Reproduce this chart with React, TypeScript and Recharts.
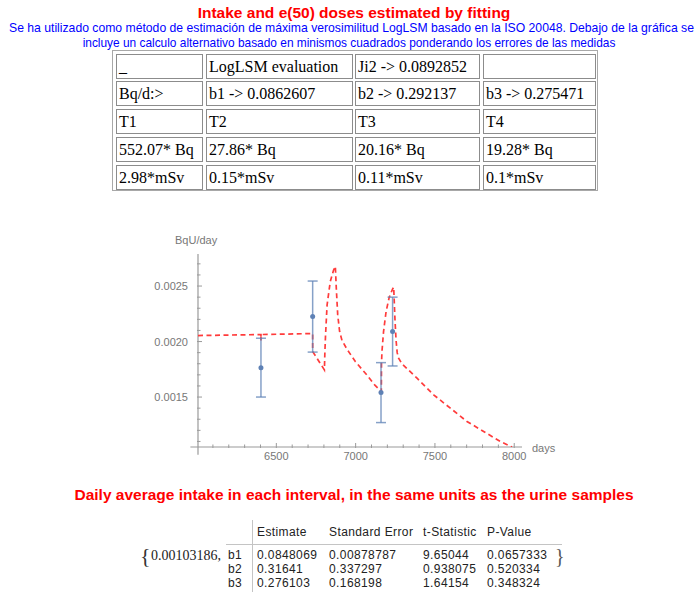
import React from 'react';
import { ComposedChart, Line, Scatter, ErrorBar, XAxis, YAxis, ReferenceLine } from 'recharts';

// Fitted urinary excretion curve (day, BqU/day)
const fitDays = [
  6006, 6403, 6403, 6403, 6729, 6729, 6765, 6803, 6806, 6810, 6820, 6840, 6860, 6872,
  6875, 6878, 6887, 6899, 6914, 6946, 6998, 7070, 7120, 7162, 7163, 7166, 7176, 7192,
  7212, 7232, 7240, 7243, 7248, 7255, 7262, 7271, 7292, 7387, 7492, 7597, 7702, 7807,
  7912, 7986,
];
const fitRates = [
  0.002054, 0.002063, 0.00201, 0.002063, 0.002072, 0.00191, 0.00183, 0.001745, 0.0019,
  0.00205, 0.00233, 0.00254, 0.00264, 0.002676, 0.00258, 0.00248, 0.00224, 0.00209,
  0.00201, 0.00193, 0.00182, 0.0017, 0.00161, 0.00155, 0.0018, 0.00191, 0.00209, 0.00227,
  0.0024, 0.00247, 0.00249, 0.00238, 0.0022, 0.00201, 0.0019, 0.00185, 0.0018, 0.00167,
  0.00152, 0.0014, 0.00128, 0.00119, 0.0011, 0.00105,
];

// Urine samples and their uncertainties
const sampleDays = [6403, 6729, 7160, 7233];
const sampleRates = [0.001765, 0.002225, 0.00154, 0.00209];
const sampleErrors = [0.000265, 0.00032, 0.00027, 0.00031];

const xTicks = [
  6100, 6200, 6300, 6400, 6500, 6600, 6700, 6800, 6900, 7000, 7100, 7200, 7300, 7400,
  7500, 7600, 7700, 7800, 7900, 8000,
];
const xLabels = [6500, 7000, 7500, 8000];
const yTicks = [
  0.0011, 0.0012, 0.0013, 0.0014, 0.0015, 0.0016, 0.0017, 0.0018, 0.0019, 0.002, 0.0021,
  0.0022, 0.0023, 0.0024, 0.0025, 0.0026, 0.0027,
];
const yLabels = [0.0015, 0.002, 0.0025];

// LogLSM summary table
const summaryRows = [
  ['_', 'LogLSM evaluation', 'Ji2 -> 0.0892852', ''],
  ['Bq/d:>', 'b1 -> 0.0862607', 'b2 -> 0.292137', 'b3 -> 0.275471'],
  ['T1', 'T2', 'T3', 'T4'],
  ['552.07* Bq', '27.86* Bq', '20.16* Bq', '19.28* Bq'],
  ['2.98*mSv', '0.15*mSv', '0.11*mSv', '0.1*mSv'],
];

// Weighted least squares parameter table
const lsqOffset = '0.00103186,';
const lsqHeaders = ['Estimate', 'Standard Error', 't-Statistic', 'P-Value'];
const lsqParams = ['b1', 'b2', 'b3'];
const lsqEstimate = ['0.0848069', '0.31641', '0.276103'];
const lsqStdError = ['0.00878787', '0.337297', '0.168198'];
const lsqTStat = ['9.65044', '0.938075', '1.64154'];
const lsqPValue = ['0.0657333', '0.520334', '0.348324'];

const fitData = fitDays.map((day, i) => ({ day, rate: fitRates[i] }));
const sampleData = sampleDays.map((day, i) => ({ day, rate: sampleRates[i], err: sampleErrors[i] }));

const SANS = '"Liberation Sans", Arial, sans-serif';
const SERIF = '"Liberation Serif", "Times New Roman", serif';
const AXIS = '#9a9a9a';
const LABEL = '#777';
const RED = '#ff0000';
const BLUE = '#0000ff';
const FIT = '#ff3b3b';
const POINT = '#5e81b5';

const near = (list: number[], v: number) => list.some((t) => Math.abs(t - v) < 1e-9);

const renderXTick = (props: any) => {
  const { x, y, payload } = props;
  const major = near(xLabels, payload.value);
  return (
    <g>
      <line x1={x} x2={x} y1={y - (major ? 4 : 2.5)} y2={y + 1} stroke={AXIS} />
      {major && (
        <text x={x} y={y + 13} textAnchor="middle" fontSize={11} fontFamily={SANS} fill={LABEL}>
          {payload.value}
        </text>
      )}
    </g>
  );
};

const renderYTick = (props: any) => {
  const { x, y, payload } = props;
  const major = near(yLabels, payload.value);
  return (
    <g>
      <line x1={x - 1} x2={x + (major ? 4 : 2.5)} y1={y} y2={y} stroke={AXIS} />
      {major && (
        <text x={x - 10} y={y + 4} textAnchor="end" fontSize={11} fontFamily={SANS} fill={LABEL}>
          {payload.value.toFixed(4)}
        </text>
      )}
    </g>
  );
};

// single line of text placed by its left edge and vertical centre
const Text = ({
  left,
  cy,
  size,
  lineScale = 1.15,
  center = false,
  children,
  style = {},
}: {
  left: number;
  cy: number;
  size: number;
  lineScale?: number;
  center?: boolean;
  children: React.ReactNode;
  style?: React.CSSProperties;
}) => {
  const lh = Math.round(size * lineScale);
  return (
    <div
      style={{
        position: 'absolute',
        left,
        top: cy - lh / 2,
        height: lh,
        lineHeight: `${lh}px`,
        fontSize: size,
        whiteSpace: 'nowrap',
        transform: center ? 'translateX(-50%)' : undefined,
        ...style,
      }}
    >
      {children}
    </div>
  );
};

// cell geometry of the summary table
const colLeft = [115, 205, 354, 482];
const colWidth = [87, 147, 125, 113];
const rowTop = [53, 80, 108, 136, 164];
const rowHeight = 25;

const SummaryTable = () => (
  <div
    style={{
      position: 'absolute',
      left: 112,
      top: 50,
      width: 486,
      height: 141,
      border: '1px solid #a8a8a8',
      boxSizing: 'border-box',
    }}
  >
    {summaryRows.map((row, r) =>
      row.map((cell, c) => (
        <div
          key={`${r}-${c}`}
          style={{
            position: 'absolute',
            left: colLeft[c] - 112,
            top: rowTop[r] - 50,
            width: colWidth[c],
            height: rowHeight,
            border: '1px solid #8c8c8c',
            boxSizing: 'border-box',
            fontFamily: SERIF,
            fontSize: 16,
            lineHeight: '23px',
            paddingLeft: 2,
            whiteSpace: 'nowrap',
            color: '#000',
          }}
        >
          {cell}
        </div>
      ))
    )}
  </div>
);

const lsqColumns = [lsqEstimate, lsqStdError, lsqTStat, lsqPValue];
const lsqColLeft = [257, 329, 423, 487];
const lsqRowY = [555, 569, 583];
const gridText: React.CSSProperties = { fontFamily: SANS, color: '#222', letterSpacing: 0.4 };

const LeastSquaresTable = () => (
  <>
    <Text left={140} cy={556} size={22} lineScale={1} style={{ fontFamily: SERIF, color: '#333' }}>
      {'{'}
    </Text>
    <Text left={151} cy={556} size={14} lineScale={1} style={{ fontFamily: SERIF, color: '#222' }}>
      {lsqOffset}
    </Text>
    <div style={{ position: 'absolute', left: 252, top: 520, width: 1, height: 72, background: '#c4c4c4' }} />
    <div style={{ position: 'absolute', left: 226, top: 544, width: 336, height: 1, background: '#c4c4c4' }} />
    {lsqHeaders.map((h, i) => (
      <Text key={h} left={lsqColLeft[i]} cy={532} size={12} lineScale={1} style={gridText}>
        {h}
      </Text>
    ))}
    {lsqParams.map((p, r) => (
      <React.Fragment key={p}>
        <Text left={228} cy={lsqRowY[r]} size={12} lineScale={1} style={gridText}>
          {p}
        </Text>
        {lsqColumns.map((col, c) => (
          <Text key={c} left={lsqColLeft[c]} cy={lsqRowY[r]} size={12} lineScale={1} style={gridText}>
            {col[r]}
          </Text>
        ))}
      </React.Fragment>
    ))}
    <Text left={555} cy={556} size={20} lineScale={1} style={{ fontFamily: SERIF, color: '#555' }}>
      {'}'}
    </Text>
  </>
);

const FitChart = () => (
  <div style={{ position: 'absolute', left: 150, top: 225 }}>
    <ComposedChart width={420} height={240} margin={{ top: 29, right: 48, bottom: 2, left: 8 }}>
      <XAxis
        type="number"
        dataKey="day"
        domain={[6006, 8049]}
        allowDataOverflow
        ticks={xTicks}
        interval={0}
        tickSize={0}
        tickMargin={0}
        axisLine={false}
        tickLine={false}
        tick={renderXTick}
        height={16}
      />
      <YAxis
        type="number"
        dataKey="rate"
        domain={[0.00105, 0.0027887]}
        allowDataOverflow
        ticks={yTicks}
        interval={0}
        tickSize={0}
        tickMargin={0}
        axisLine={false}
        tickLine={false}
        tick={renderYTick}
        width={40}
      />
      <ReferenceLine
        segment={[{ x: 5958, y: 0.00105 }, { x: 8049, y: 0.00105 }]}
        stroke={AXIS}
        strokeWidth={1.2}
        ifOverflow="visible"
      />
      <ReferenceLine
        segment={[{ x: 6006, y: 0.00098 }, { x: 6006, y: 0.0027887 }]}
        stroke={AXIS}
        strokeWidth={1.2}
        ifOverflow="visible"
      />
      <Line
        data={fitData}
        dataKey="rate"
        type="linear"
        stroke={FIT}
        strokeWidth={1.7}
        strokeDasharray="5 3.5"
        dot={false}
        activeDot={false}
        isAnimationActive={false}
      />
      <Scatter
        data={sampleData}
        dataKey="rate"
        fill={POINT}
        isAnimationActive={false}
        shape={(p: any) => <circle cx={p.cx} cy={p.cy} r={2.5} fill={POINT} />}
      >
        <ErrorBar dataKey="err" direction="y" width={5} stroke={POINT} strokeOpacity={0.75} strokeWidth={1.5} />
      </Scatter>
    </ComposedChart>
  </div>
);

export default function App() {
  return (
    <div
      style={{
        position: 'absolute',
        left: 0,
        top: 0,
        width: 697,
        height: 592,
        background: '#fff',
        overflow: 'hidden',
        fontFamily: SANS,
      }}
    >
      <Text left={354} cy={12.5} size={15.5} center style={{ color: RED, fontWeight: 'bold' }}>
        Intake and e(50) doses estimated by fitting
      </Text>
      <Text left={9} cy={28} size={12.2} style={{ color: BLUE }}>
        Se ha utilizado como método de estimación de máxima verosimilitud LogLSM basado en la ISO 20048. Debajo de la gráfica se
      </Text>
      <Text left={349} cy={42.5} size={11.9} center style={{ color: BLUE }}>
        incluye un calculo alternativo basado en minismos cuadrados ponderando los errores de las medidas
      </Text>

      <SummaryTable />

      <Text left={175} cy={240} size={11} style={{ color: LABEL }}>
        BqU/day
      </Text>
      <FitChart />
      <Text left={532} cy={448} size={11} style={{ color: LABEL }}>
        days
      </Text>

      <Text left={354} cy={495} size={15.5} center style={{ color: RED, fontWeight: 'bold' }}>
        Daily average intake in each interval, in the same units as the urine samples
      </Text>

      <LeastSquaresTable />
    </div>
  );
}
